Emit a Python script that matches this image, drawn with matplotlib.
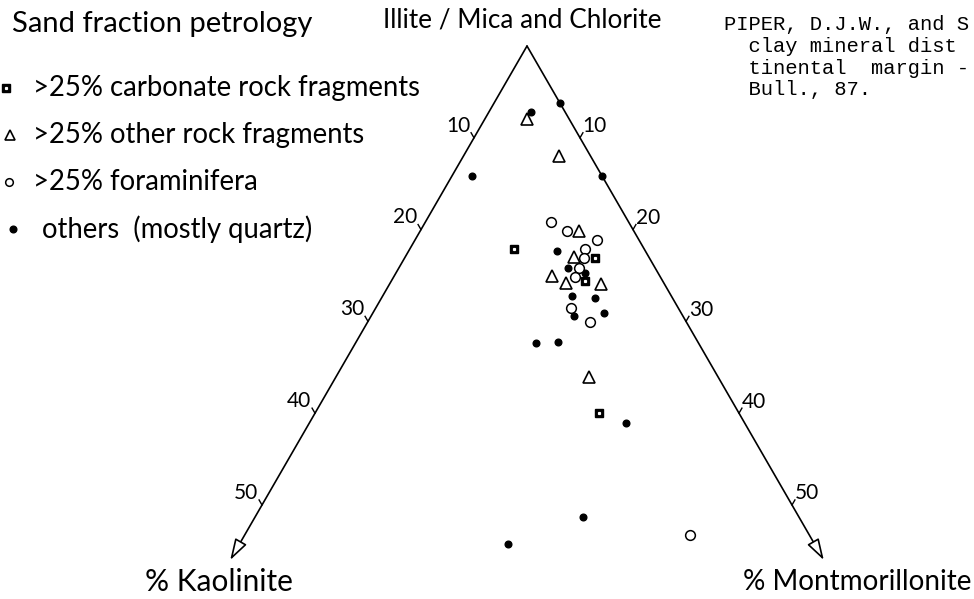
import numpy as np
import matplotlib.pyplot as plt

W, H = 974, 599
SCALE = 10.6          # pixels per 1 % along an edge
APEX = (527, 46)      # apex position in pixels (top-left origin)
END = 56              # edges run out to 56 %

# sample compositions, (% kaolinite, % montmorillonite); illite/mica+chlorite is the rest
carb_kaol = [12.3, 5.1, 7.3, 13.2]
carb_mont = [9.8, 18.0, 18.3, 26.8]
rock_kaol = [4.0, 3.0, 5.2, 7.1, 10.2, 9.2, 6.0, 12.2]
rock_mont = [4.0, 9.0, 15.0, 15.9, 14.9, 16.6, 19.9, 23.9]
foram_kaol = [7.3, 6.3, 3.9, 5.6, 6.2, 7.2, 8.1, 10.1, 9.1, 11.3]
foram_mont = [11.9, 13.9, 17.2, 16.5, 16.9, 17.0, 17.1, 18.4, 21.0, 42.0]
other_kaol = [3.2, 0.0, 0.0, 12.3, 8.3, 8.2, 6.9, 9.4, 7.3, 10.3, 7.3, 15.3, 13.2, 11.2, 20.4, 28.9]
other_mont = [4.0, 6.2, 14.2, 1.9, 14.0, 16.0, 17.8, 17.8, 20.1, 19.1, 21.8, 17.0, 19.0, 29.9, 30.9, 25.3]

ticks = [10, 20, 30, 40, 50]
legend_labels = [">25% carbonate rock fragments", ">25% other rock fragments",
                 ">25% foraminifera", "others  (mostly quartz)"]
citation = ["PIPER, D.J.W., and S", "  clay mineral dist", "  tinental  margin -", "  Bull., 87."]

FONT = ["Lato", "DejaVu Sans"]
R3 = np.sqrt(3) / 2


def tern(k, m):
    k = np.asarray(k, float); m = np.asarray(m, float)
    return 0.5 * (m - k), -R3 * (k + m)


def px(x, y):
    """pixel (top-left origin) -> figure fraction"""
    return x / W, 1 - y / H


fig = plt.figure(figsize=(W / 100, H / 100), dpi=100)
ax = fig.add_axes([0, 0, 1, 1])
ax.set_xlim(-APEX[0] / SCALE, (W - APEX[0]) / SCALE)
ax.set_ylim(-(H - APEX[1]) / SCALE, APEX[1] / SCALE)
ax.axis("off")

# two edges with open arrowheads
for k, m in [(END, 0), (0, END)]:
    x1, y1 = tern(k, m)
    ax.annotate("", xy=(float(x1), float(y1)), xytext=(0, 0),
                arrowprops=dict(arrowstyle="-|>,head_length=1.3,head_width=0.4",
                                fc="white", ec="black", lw=1.2, shrinkA=0, shrinkB=0))

# ticks + labels
tl = 0.55
for t in ticks:
    x0, y0 = tern(t, 0)
    ax.plot([x0, x0 - 0.5 * tl], [y0, y0 + R3 * tl], color="black", lw=1.0)
    ax.text(x0 - 1.5, y0 + 1.15, str(t), ha="center", va="center", fontsize=15, family=FONT)
    x0, y0 = tern(0, t)
    ax.plot([x0, x0 + 0.5 * tl], [y0, y0 + R3 * tl], color="black", lw=1.0)
    ax.text(x0 + 1.4, y0 + 1.1, str(t), ha="center", va="center", fontsize=15, family=FONT)

# samples
x, y = tern(other_kaol, other_mont)
ax.plot(x, y, "o", ms=4.8, color="black", ls="none")
x, y = tern(foram_kaol, foram_mont)
ax.plot(x, y, "o", ms=7, mfc="white", mec="black", mew=1.1, ls="none")
x, y = tern(rock_kaol, rock_mont)
ax.plot(x, y, "^", ms=8, mfc="white", mec="black", mew=1.2, ls="none")
x, y = tern(carb_kaol, carb_mont)
ax.plot(x, y, "s", ms=5.8, color="black", ls="none")
ax.plot(x, y, "s", ms=1.3, color="white", ls="none")

# titles
fig.text(*px(12, 24), "Sand fraction petrology", ha="left", va="center", fontsize=21, family=FONT)
fig.text(*px(522, 20), "Illite / Mica and Chlorite", ha="center", va="center", fontsize=18.8, family=FONT)
fig.text(*px(145, 582), "% Kaolinite", ha="left", va="center", fontsize=21.5, family=FONT)
fig.text(*px(743, 582), "% Montmorillonite", ha="left", va="center", fontsize=20.1, family=FONT)

# hand-drawn legend
rows = [88, 135, 182, 229]
lx = [6, 10, 9, 13]
kw = [dict(marker="s", ms=5.8, color="black"), dict(marker="^", ms=7, mfc="white", mec="black", mew=1.2),
      dict(marker="o", ms=5.5, mfc="white", mec="black", mew=1.1), dict(marker="o", ms=4.8, color="black")]
for yy, xx, k, lab in zip(rows, lx, kw, legend_labels):
    fx, fy = px(xx, yy)
    fig.add_artist(plt.Line2D([fx], [fy], ls="none", transform=fig.transFigure, **k))
    fig.text(*px(33 if lab.startswith(">") else 42, yy), lab, ha="left", va="center",
             fontsize=19.8, family=FONT)
fig.add_artist(plt.Line2D([px(6, 88)[0]], [px(6, 88)[1]], ls="none", marker="s", ms=1.3,
                          color="white", transform=fig.transFigure))

for i, line in enumerate(citation):
    fig.text(*px(724, 25 + 21.5 * i), line, ha="left", va="center", fontsize=14.8,
             family=["Liberation Mono", "DejaVu Sans Mono"])

fig.savefig("out.png", dpi=100)
